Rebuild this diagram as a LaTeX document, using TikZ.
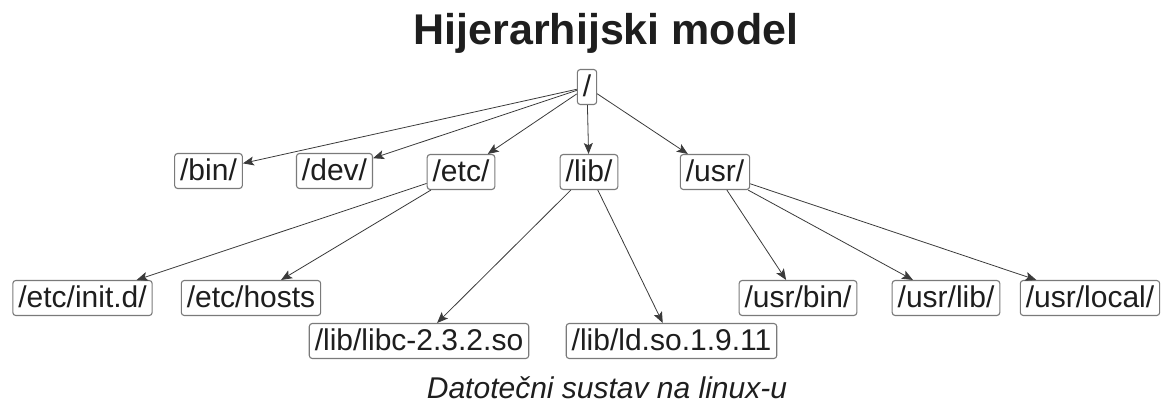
\documentclass[tikz,border=0pt]{standalone}
\usepackage{fontspec}
\setmainfont{Liberation Sans}
\usetikzlibrary{arrows.meta}
\definecolor{boxgray}{HTML}{7A7A7A}
\definecolor{linegray}{HTML}{3A3A3A}
\definecolor{txt}{HTML}{1E1E1E}
\tikzset{
  dirbox/.style={draw=boxgray, line width=1.1pt, rounded corners=3pt, fill=white,
    text=txt, font=\fontsize{30}{36}\selectfont, inner xsep=5.5pt, inner ysep=3pt,
    text height=24pt, text depth=5pt},
  link/.style={draw=linegray, line width=0.8pt, -{Stealth[length=11pt,width=9pt,inset=2.5pt]}}
}
\begin{document}
\begin{tikzpicture}[x=1pt,y=-1pt]
\useasboundingbox (0,0) rectangle (1163,404);
\node[anchor=base, text=txt, font=\fontsize{43}{50}\bfseries] (title) at (606,45) {Hijerarhijski model};
\node[dirbox] (root) at (587,87) {/};
\node[dirbox] (bin) at (208.5,171) {/bin/};
\node[dirbox] (dev) at (334.5,171) {/dev/};
\node[dirbox] (etc) at (461,172) {/etc/};
\node[dirbox] (lib) at (589,172) {/lib/};
\node[dirbox] (usr) at (715,172) {/usr/};
\node[dirbox] (initd) at (82.5,298) {/etc/init.d/};
\node[dirbox] (hosts) at (251,298) {/etc/hosts};
\node[dirbox] (libc) at (419,341) {/lib/libc-2.3.2.so};
\node[dirbox] (ld) at (671.5,341) {/lib/ld.so.1.9.11};
\node[dirbox] (usrbin) at (798,298) {/usr/bin/};
\node[dirbox] (usrlib) at (946,298) {/usr/lib/};
\node[dirbox] (usrlocal) at (1090,298) {/usr/local/};
\node[anchor=base, text=txt, font=\fontsize{30}{36}\itshape] (caption) at (607,398) {Datotečni sustav na linux-u};
\draw[link] (root) -- (bin);
\draw[link] (root) -- (dev);
\draw[link] (root) -- (etc);
\draw[link] (root) -- (lib);
\draw[link] (root) -- (usr);
\draw[link] (etc) -- (initd);
\draw[link] (etc) -- (hosts);
\draw[link] (lib) -- (libc);
\draw[link] (lib) -- (ld);
\draw[link] (usr) -- (usrbin);
\draw[link] (usr) -- (usrlib);
\draw[link] (usr) -- (usrlocal);
\end{tikzpicture}
\end{document}
